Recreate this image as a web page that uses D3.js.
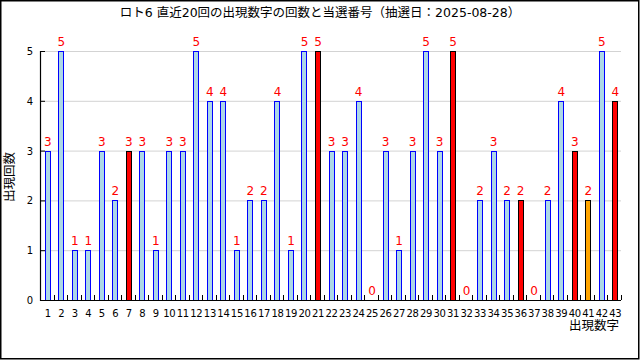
<!DOCTYPE html>
<html><head><meta charset="utf-8">
<script src="https://cdn.jsdelivr.net/npm/d3@7"></script>
<style>
html,body{margin:0;padding:0;background:#fff;}
svg{display:block;}
text{font-family:"DejaVu Sans","Noto Sans CJK JP",sans-serif;}
</style></head>
<body>
<script>
const numbers = d3.range(1, 44);
const counts = [3,5,1,1,3,2,3,3,1,3,3,5,4,4,1,2,2,4,1,5,5,3,3,4,0,3,1,3,5,3,5,0,2,3,2,2,0,2,4,3,2,5,4];
const winning = [7,21,31,36,40,43];
const bonus = [41];
const yTicks = [0,1,2,3,4,5];
const title = "ロト6 直近20回の出現数字の回数と当選番号（抽選日：2025-08-28）";
const yLabel = "出現回数";
const xLabel = "出現数字";

const W = 640, H = 360;
const svg = d3.select("body").append("svg").attr("width", W).attr("height", H);

svg.append("rect").attr("x",0.75).attr("y",0.75).attr("width",W-2).attr("height",H-2)
  .attr("fill","#fff").attr("stroke","#000").attr("stroke-width",1.5);

const x = d3.scaleBand().domain(numbers).range([41, 622]).paddingInner(0).paddingOuter(0);
const y = d3.scaleLinear().domain([0,5]).range([300, 51]);

// grid
svg.append("g").selectAll("line").data(yTicks.filter(d=>d>0)).join("line")
  .attr("x1",40).attr("x2",621).attr("y1",d=>y(d)+0.5).attr("y2",d=>y(d)+0.5)
  .attr("stroke","#d3d3d3").attr("stroke-width",1);

// bars
const color = n => winning.includes(n) ? "#ff0000" : bonus.includes(n) ? "#ffa500" : "#add8e6";
const stroke = n => (winning.includes(n) || bonus.includes(n)) ? "#000" : "#0000ff";
svg.append("g").selectAll("rect").data(numbers).join("rect")
  .filter((n,i)=>counts[i]>0)
  .attr("x", n => Math.round(x(n)+x.bandwidth()/2-3)+0.5)
  .attr("y", (n) => Math.round(y(counts[n-1]))+0.5)
  .attr("width", 5)
  .attr("height", n => Math.round(y(0)) - Math.round(y(counts[n-1])))
  .attr("fill", color).attr("stroke", stroke).attr("stroke-width",1);

// value labels
svg.append("g").selectAll("text").data(numbers).join("text")
  .attr("x", n => x(n)+x.bandwidth()/2)
  .attr("y", n => y(counts[n-1]) - 5)
  .attr("text-anchor","middle").attr("font-size",12).attr("fill","#ff0000")
  .text(n => counts[n-1]);

// axes
svg.append("line").attr("x1",40.5).attr("x2",40.5).attr("y1",51).attr("y2",301).attr("stroke","#000").attr("stroke-width",1.2);
svg.append("line").attr("x1",40).attr("x2",621).attr("y1",300.5).attr("y2",300.5).attr("stroke","#000").attr("stroke-width",1.2);
// x ticks at band boundaries
svg.append("g").selectAll("line").data(numbers).join("line")
  .attr("x1", n => Math.round(x(n)+x.bandwidth())-0.5).attr("x2", n => Math.round(x(n)+x.bandwidth())-0.5)
  .attr("y1",300).attr("y2",295).attr("stroke","#000");
// y ticks
svg.append("g").selectAll("line").data(yTicks).join("line")
  .attr("x1",40).attr("x2",45).attr("y1",d=>y(d)+0.5).attr("y2",d=>y(d)+0.5).attr("stroke","#000");
svg.append("g").selectAll("text").data(yTicks).join("text")
  .attr("x",33).attr("y",d=>y(d)+4).attr("text-anchor","end").attr("font-size",10).text(d=>d);
// x labels
svg.append("g").selectAll("text").data(numbers).join("text")
  .attr("x", n => x(n)+x.bandwidth()/2).attr("y",317)
  .attr("text-anchor","middle").attr("font-size",10).attr("letter-spacing",-0.3).text(n=>n);

svg.append("text").attr("x",320).attr("y",17).attr("text-anchor","middle").attr("font-size",12.5).text(title);
svg.append("text").attr("transform","translate(14,177) rotate(-90)").attr("text-anchor","middle").attr("font-size",12.5).text(yLabel);
svg.append("text").attr("x",619).attr("y",330).attr("text-anchor","end").attr("font-size",12.5).text(xLabel);
</script>
</body></html>
